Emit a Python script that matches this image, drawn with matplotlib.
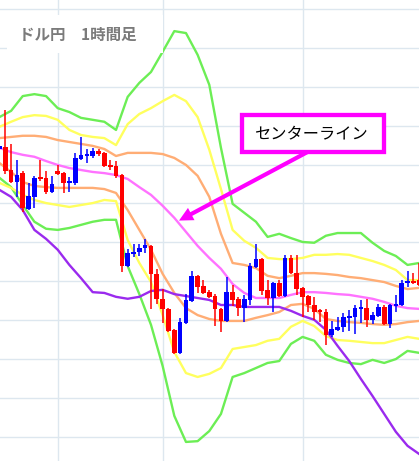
import numpy as np
import matplotlib
matplotlib.use("Agg")
import matplotlib.pyplot as plt
from matplotlib.patches import Rectangle

plt.rcParams['font.family'] = ['Noto Sans CJK JP', 'DejaVu Sans']

# ---------------- data ----------------
title_text = "ドル円　1時間足"
callout_text = "センターライン"

# USD/JPY hourly candles
opens = [110.740, 110.745, 110.686, 110.655, 110.678, 110.586, 110.617, 110.668, 110.666, 110.630,
         110.684, 110.678, 110.653, 110.653, 110.714, 110.722, 110.722, 110.735, 110.730, 110.699,
         110.696, 110.673, 110.439, 110.470, 110.475, 110.486, 110.491, 110.419, 110.355, 110.329,
         110.275, 110.216, 110.293, 110.349, 110.414, 110.388, 110.372, 110.362, 110.329, 110.298,
         110.372, 110.355, 110.331, 110.352, 110.437, 110.457, 110.378, 110.357, 110.396, 110.362,
         110.460, 110.421, 110.383, 110.362, 110.339, 110.326, 110.321, 110.262, 110.275, 110.283,
         110.306, 110.308, 110.329, 110.331, 110.301, 110.311, 110.334, 110.290, 110.337, 110.339,
         110.396, 110.401, 110.403]
highs = [110.750, 110.840, 110.753, 110.712, 110.684, 110.653, 110.671, 110.712, 110.684, 110.671,
         110.699, 110.681, 110.668, 110.730, 110.771, 110.740, 110.743, 110.740, 110.732, 110.712,
         110.709, 110.676, 110.483, 110.496, 110.496, 110.509, 110.493, 110.432, 110.380, 110.331,
         110.277, 110.306, 110.367, 110.426, 110.416, 110.403, 110.378, 110.367, 110.331, 110.411,
         110.390, 110.360, 110.365, 110.447, 110.496, 110.460, 110.403, 110.398, 110.403, 110.468,
         110.468, 110.468, 110.385, 110.365, 110.360, 110.329, 110.329, 110.298, 110.308, 110.319,
         110.326, 110.339, 110.352, 110.355, 110.321, 110.342, 110.339, 110.342, 110.365, 110.403,
         110.426, 110.421, 110.447]
lows = [110.737, 110.676, 110.653, 110.617, 110.578, 110.583, 110.588, 110.658, 110.624, 110.627,
        110.673, 110.627, 110.630, 110.648, 110.712, 110.704, 110.717, 110.722, 110.694, 110.686,
        110.666, 110.424, 110.437, 110.463, 110.465, 110.473, 110.329, 110.342, 110.293, 110.270,
        110.213, 110.213, 110.290, 110.347, 110.370, 110.367, 110.357, 110.285, 110.270, 110.295,
        110.337, 110.311, 110.295, 110.339, 110.434, 110.365, 110.339, 110.321, 110.360, 110.360,
        110.419, 110.365, 110.308, 110.321, 110.301, 110.295, 110.236, 110.257, 110.272, 110.270,
        110.272, 110.264, 110.293, 110.283, 110.290, 110.308, 110.288, 110.280, 110.321, 110.337,
        110.385, 110.393, 110.388]
closes = [110.748, 110.684, 110.655, 110.673, 110.588, 110.619, 110.666, 110.663, 110.630, 110.650,
          110.676, 110.653, 110.658, 110.717, 110.725, 110.727, 110.735, 110.727, 110.696, 110.694,
          110.671, 110.439, 110.473, 110.475, 110.486, 110.493, 110.419, 110.355, 110.329, 110.272,
          110.216, 110.295, 110.352, 110.414, 110.385, 110.370, 110.360, 110.329, 110.298, 110.372,
          110.352, 110.331, 110.355, 110.439, 110.457, 110.375, 110.357, 110.396, 110.362, 110.460,
          110.421, 110.380, 110.360, 110.339, 110.321, 110.321, 110.262, 110.277, 110.283, 110.308,
          110.311, 110.331, 110.331, 110.301, 110.313, 110.334, 110.290, 110.339, 110.342, 110.396,
          110.401, 110.396, 110.390]

# Bollinger band lines, read every second candle
band_idx = list(range(0, 73, 2))
upper_3 = [110.822, 110.838, 110.876, 110.881, 110.876, 110.845, 110.835, 110.820, 110.815, 110.810,
           110.789, 110.874, 110.910, 110.938, 110.990, 111.043, 111.038, 110.982, 110.905, 110.743,
           110.599, 110.576, 110.553, 110.514, 110.522, 110.511, 110.501, 110.499, 110.517, 110.524,
           110.524, 110.524, 110.499, 110.478, 110.465, 110.442, 110.447]
upper_2 = [110.797, 110.810, 110.822, 110.827, 110.825, 110.815, 110.789, 110.776, 110.771, 110.768,
           110.750, 110.804, 110.830, 110.845, 110.863, 110.879, 110.863, 110.822, 110.738, 110.637,
           110.532, 110.504, 110.486, 110.460, 110.457, 110.457, 110.460, 110.468, 110.468, 110.470,
           110.468, 110.460, 110.452, 110.442, 110.429, 110.403, 110.403]
upper_1 = [110.768, 110.771, 110.774, 110.774, 110.771, 110.763, 110.758, 110.753, 110.748, 110.740,
           110.722, 110.730, 110.730, 110.730, 110.727, 110.717, 110.699, 110.671, 110.617, 110.522,
           110.447, 110.442, 110.434, 110.414, 110.408, 110.414, 110.421, 110.421, 110.419, 110.416,
           110.411, 110.408, 110.403, 110.398, 110.388, 110.380, 110.383]
center = [110.743, 110.732, 110.725, 110.720, 110.709, 110.699, 110.691, 110.686, 110.681, 110.678,
          110.673, 110.663, 110.642, 110.622, 110.594, 110.563, 110.527, 110.491, 110.460, 110.432,
          110.393, 110.370, 110.357, 110.357, 110.357, 110.365, 110.372, 110.372, 110.370, 110.367,
          110.365, 110.360, 110.355, 110.347, 110.337, 110.331, 110.329]
lower_1 = [110.704, 110.681, 110.655, 110.645, 110.642, 110.640, 110.640, 110.640, 110.640, 110.637,
           110.627, 110.583, 110.532, 110.481, 110.419, 110.370, 110.331, 110.313, 110.303, 110.298,
           110.298, 110.298, 110.306, 110.313, 110.321, 110.339, 110.342, 110.329, 110.303, 110.298,
           110.295, 110.293, 110.290, 110.288, 110.290, 110.295, 110.298]
lower_2 = [110.653, 110.640, 110.622, 110.609, 110.601, 110.596, 110.591, 110.596, 110.601, 110.609,
           110.606, 110.506, 110.447, 110.398, 110.313, 110.218, 110.164, 110.154, 110.162, 110.177,
           110.226, 110.231, 110.236, 110.247, 110.252, 110.283, 110.298, 110.285, 110.259, 110.249,
           110.247, 110.244, 110.241, 110.241, 110.249, 110.257, 110.252]
lower_3 = [110.666, 110.642, 110.596, 110.553, 110.535, 110.532, 110.537, 110.545, 110.553, 110.558,
           110.558, 110.439, 110.367, 110.288, 110.182, 110.054, 109.987, 109.989, 110.015, 110.059,
           110.154, 110.164, 110.177, 110.190, 110.195, 110.239, 110.257, 110.247, 110.211, 110.198,
           110.190, 110.187, 110.198, 110.190, 110.200, 110.221, 110.216]
lagging = [110.635, 110.617, 110.583, 110.532, 110.509, 110.481, 110.442, 110.408, 110.372, 110.370,
           110.360, 110.355, 110.360, 110.375, 110.378, 110.367, 110.362, 110.357, 110.352, 110.339,
           110.339, 110.334, 110.334, 110.334, 110.334, 110.324, 110.311, 110.301, 110.275, 110.234,
           110.195, 110.149, 110.105, 110.059, 110.013, 109.977, 109.956]

price_grid = [110.0, 110.1, 110.2, 110.3, 110.4, 110.5, 110.6, 110.7, 110.8, 110.9, 111.0, 111.1]
time_grid = [10, 28, 52]

# ---------------- figure ----------------
fig = plt.figure(figsize=(4.19, 4.61), dpi=100)
ax = fig.add_axes([0, 0, 1, 1])
ax.set_facecolor('white')
for s in ax.spines.values():
    s.set_visible(False)

ax.set_xlim(0.1, 0.1 + 419 / 5.83)
ax.set_ylim(109.938, 111.123)
ax.set_yticks(price_grid)
ax.set_xticks(time_grid)
ax.tick_params(length=0, labelleft=False, labelbottom=False)
ax.grid(True, color='#dde7ef', lw=1.0)
ax.set_axisbelow(True)

lw = 1.7
ax.plot(band_idx, upper_3, color='#6cee55', lw=lw, zorder=2)
ax.plot(band_idx, lower_3, color='#6cee55', lw=lw, zorder=2)
ax.plot(band_idx, upper_2, color='#ffff5e', lw=lw, zorder=2)
ax.plot(band_idx, lower_2, color='#ffff5e', lw=lw, zorder=2)
ax.plot(band_idx, upper_1, color='#ffad75', lw=lw, zorder=2)
ax.plot(band_idx, lower_1, color='#ffad75', lw=lw, zorder=2)
ax.plot(band_idx, center, color='#ff72ff', lw=lw, zorder=2)
ax.plot(band_idx, lagging, color='#9a2aee', lw=lw, zorder=2)

# candles
o = np.array(opens); h = np.array(highs); l = np.array(lows); c = np.array(closes)
xi = np.arange(len(o))
cols = np.where(c >= o, '#0000ff', '#ff0000')
ax.vlines(xi, l, h, colors=cols, lw=1.1, zorder=3)
body_bottom = np.minimum(o, c)
body_h = np.maximum(np.abs(c - o), 0.004)
ax.bar(xi, body_h, bottom=body_bottom, width=0.8, color=cols, edgecolor='none', zorder=3)

# title with white backing
ax.add_patch(Rectangle((0.017, 0.885), 0.372, 0.083, transform=ax.transAxes,
                       facecolor='white', edgecolor='none', zorder=4))
ax.text(0.045, 0.925, title_text, transform=ax.transAxes, ha='left', va='center',
        fontsize=11.2, fontweight='bold', color='#7b7b7b', zorder=5)

# callout arrow and box
ax.annotate('', xy=(30.8, 110.556), xycoords='data',
            xytext=(0.7375, 0.672), textcoords='axes fraction',
            arrowprops=dict(arrowstyle='simple,head_length=1.0,head_width=1.0,tail_width=0.3',
                            mutation_scale=10, fc='#ff00ff', ec='none', lw=0,
                            shrinkA=0, shrinkB=0),
            zorder=5)
ax.add_patch(Rectangle((0.5776, 0.6698), 0.3382, 0.0797, transform=ax.transAxes,
                       facecolor='white', edgecolor='#ff00ff', lw=3.1, zorder=6))
ax.text(0.7434, 0.7082, callout_text, transform=ax.transAxes, ha='center', va='center',
        fontsize=11.7, color='black', zorder=7)

fig.savefig('out.png', dpi=100)
